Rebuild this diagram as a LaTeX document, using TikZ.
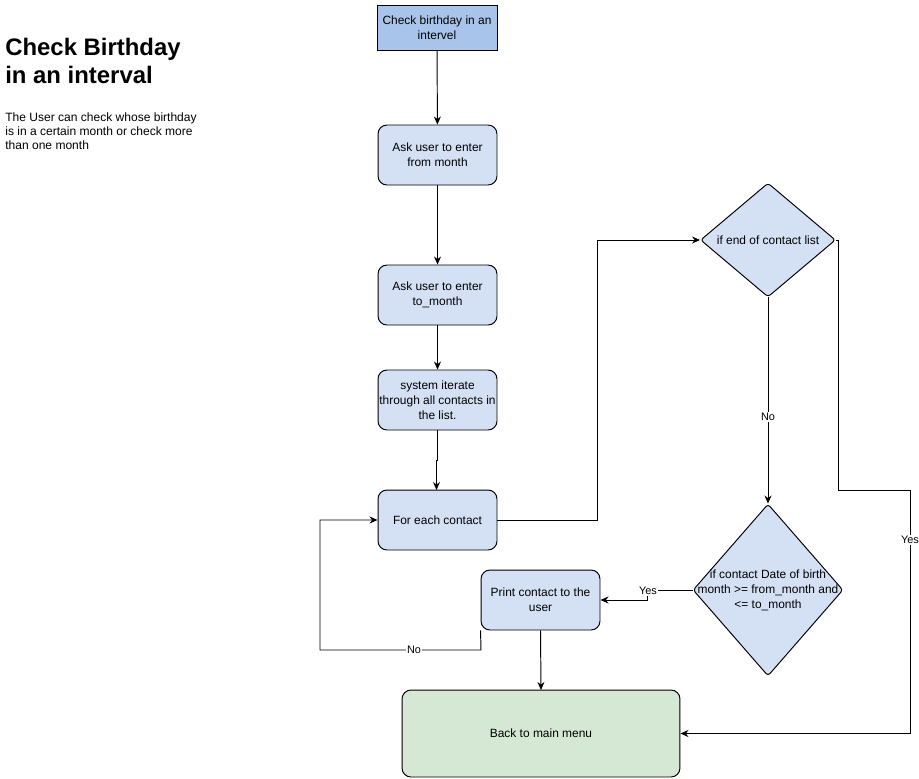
\documentclass[tikz,border=0pt]{standalone}
\usepackage{fontspec}
\setmainfont{Liberation Sans}
\usetikzlibrary{arrows.meta,shapes.geometric}

\definecolor{startblue}{HTML}{A9C4EB}
\definecolor{boxblue}{HTML}{D4E1F5}
\definecolor{menugreen}{HTML}{D5E8D4}

\tikzset{
	box/.style={draw=black, fill=boxblue, rounded corners=0.18cm, line width=0.55pt, align=center, inner sep=0pt, font=\fontsize{6.8}{8.5}\selectfont},
	startbox/.style={draw=black, fill=startblue, line width=0.55pt, align=center, inner sep=0pt, font=\fontsize{6.8}{8.5}\selectfont},
	decide/.style={draw=black, fill=boxblue, diamond, rounded corners=0.06cm, line width=0.55pt, inner sep=0pt},
	txt/.style={align=center, font=\fontsize{6.8}{8.5}\selectfont},
	lbl/.style={fill=white, inner sep=0.5pt, font=\fontsize{6.2}{7}\selectfont},
	arr/.style={line width=0.55pt, -{Stealth[length=0.16cm, width=0.14cm]}},
}

\begin{document}
\begin{tikzpicture}[x=0.02cm, y=-0.02cm]
			%%%%% START %%%%%
			\useasboundingbox (0, 0) rectangle (919, 778);
			
			% heading
			\node[anchor=north west, align=left, inner sep=0pt, font=\fontsize{13.6}{16}\selectfont\bfseries] (title) at (5, 38) {Check Birthday\\in an interval};
			\node[anchor=north west, align=left, inner sep=0pt, font=\fontsize{6.85}{8.2}\selectfont] (about) at (5, 112) {The User can check whose birthday\\is in a certain month or check more\\than one month};
			
			% boxes
			\node[startbox, minimum width=2.4cm, minimum height=0.9cm] (start) at (437, 27.5) {Check birthday in an\\intervel};
			\node[box, minimum width=2.38cm, minimum height=1.2cm] (from) at (437.5, 155) {Ask user to enter\\from month};
			\node[box, minimum width=2.38cm, minimum height=1.2cm] (to) at (437.5, 295) {Ask user to enter\\to\_month};
			\node[box, minimum width=2.38cm, minimum height=1.2cm] (iter) at (437.5, 400) {system iterate\\through all contacts in\\the list.};
			\node[box, minimum width=2.38cm, minimum height=1.2cm] (each) at (437.5, 520) {For each contact};
			\node[box, minimum width=2.38cm, minimum height=1.2cm] (print) at (540.5, 600) {Print contact to the\\user};
			\node[box, fill=menugreen, minimum width=5.56cm, minimum height=1.74cm] (menu) at (541, 733.5) {Back to main menu};
			
			% decisions
			\node[decide, minimum width=2.7cm, minimum height=2.28cm] (end) at (768, 240) {};
			\node[txt] (endtxt) at (end) {if end of contact list};
			\node[decide, minimum width=3.0cm, minimum height=3.44cm] (match) at (768, 590) {};
			\node[txt] (matchtxt) at (match) {if contact Date of birth\\month >= from\_month and\\<= to\_month};
			
			% connectors
			\draw[arr] (start) -- (from);
			\draw[arr] (from) -- (to);
			\draw[arr] (to) -- (iter);
			\draw[arr] (iter.south) -- (437.5, 460) -- (436.5, 460) -- (436.5, 490);
			\draw[arr] (each.east) -- (597, 520) |- (end.west);
			\draw[arr] (end.south) -- node[lbl, pos=0.58] (no1) {No} (match.north);
			\draw[arr] (end.east) -- (838, 240) -- (838, 490) -- (910, 490) |- (menu.east);
			\node[lbl] (yes1) at (910, 540) {Yes};
			\draw[arr] (match.west) -- (647, 590) |- (print.east);
			\node[lbl] (yes2) at (648, 591) {Yes};
			\draw[arr] (print.south) -- (541, 690);
			\draw[arr] (print.south west) -- (481, 650) -- (320, 650) |- (each.west);
			\node[lbl] (no2) at (414, 650) {No};
			
			%%%%% END %%%%%
		\end{tikzpicture}
\end{document}
